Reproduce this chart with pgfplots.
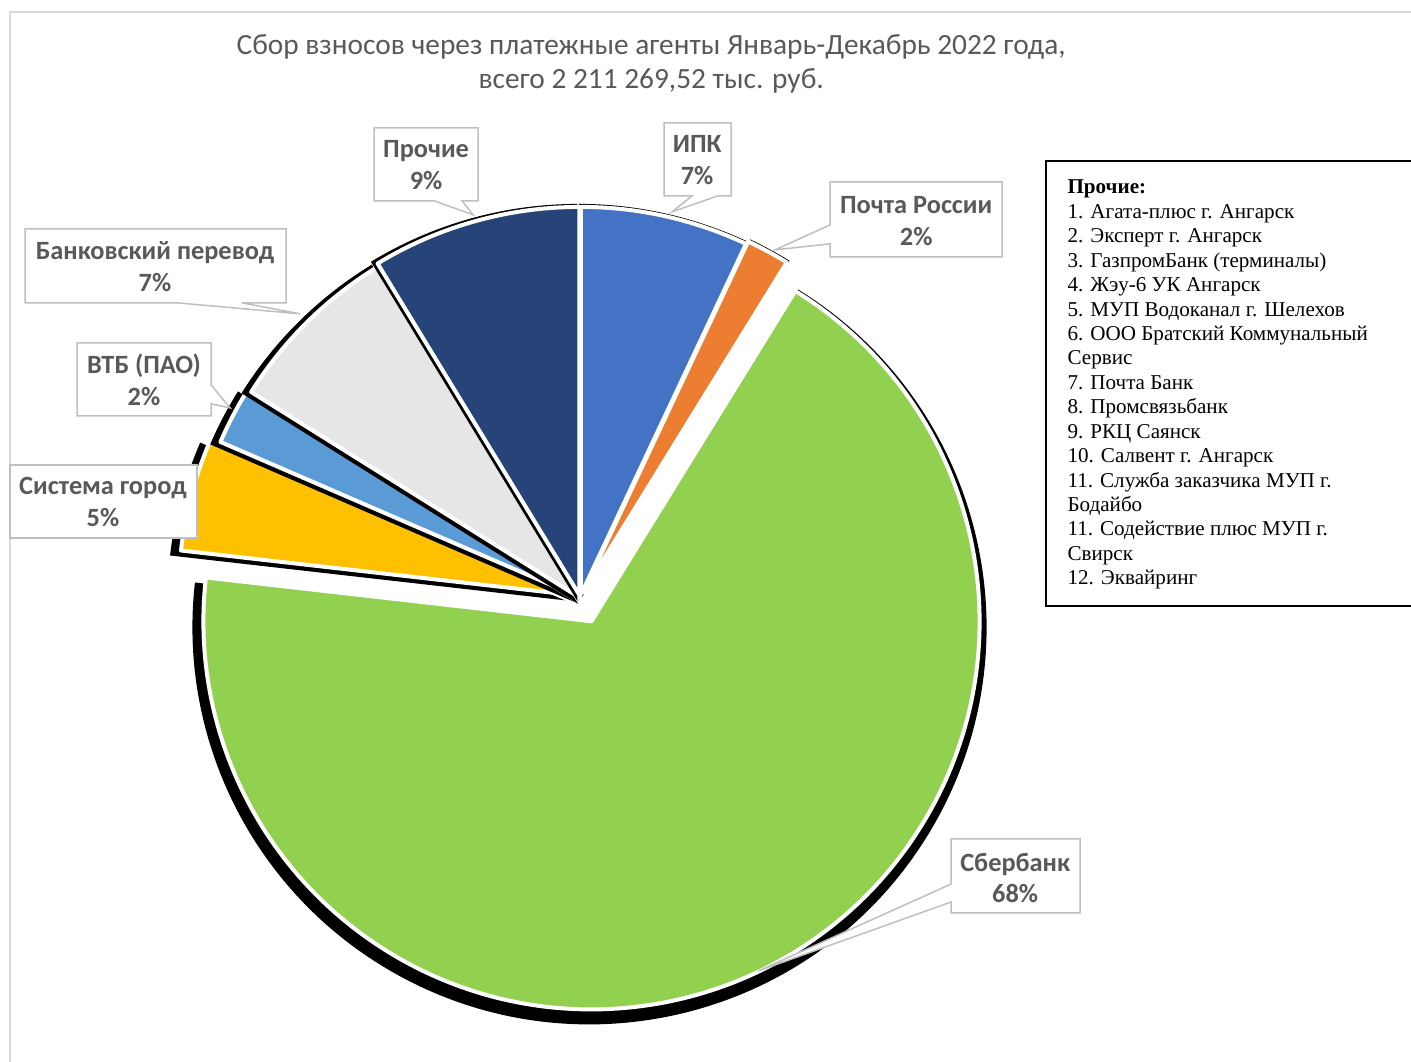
\documentclass[border=0pt]{standalone}
\usepackage{fontspec}
\setmainfont{Carlito}
\newfontfamily\legfont{Liberation Serif}
\usepackage{pgfplots}
\usepackage{pgfplotstable}
\pgfplotsset{compat=1.18}

\definecolor{s0}{HTML}{4472C4}
\definecolor{s1}{HTML}{ED7D31}
\definecolor{s2}{HTML}{92D050}
\definecolor{s3}{HTML}{FFC000}
\definecolor{s4}{HTML}{5B9BD5}
\definecolor{s5}{HTML}{E6E6E6}
\definecolor{s6}{HTML}{264478}
\definecolor{lblgray}{HTML}{595959}
\definecolor{boxgray}{HTML}{BFBFBF}
\definecolor{framegray}{HTML}{D9D9D9}

% shares in %, clockwise from 12 o'clock; expl = pull-out of the slice (px)
\pgfplotstableread{
name pct expl
ИПК 7.0 3
Почта 1.8 6
Сбербанк 68.0 26
Система 4.7 14
ВТБ 2.4 4
Банк 7.4 0
Прочие 8.7 3
}\piedata

% pie centre and radius, in px of the 1411x1062 canvas (y up)
\def\cx{580}
\def\cy{464}
\def\R{388}
\newcommand\px[2]{(axis cs:#1,{1062-#2})}

\begin{document}
\begin{tikzpicture}
\def\cum{0}
\pgfplotsforeachungrouped \i in {0,1,2,3,4,5,6}{%
  \pgfplotstablegetelem{\i}{pct}\of\piedata\let\p\pgfplotsretval
  \pgfplotstablegetelem{\i}{expl}\of\piedata\let\e\pgfplotsretval
  \pgfmathsetmacro\sa{90-3.6*\cum}%
  \pgfmathsetmacro\cum{\cum+\p}%
  \pgfmathsetmacro\ea{90-3.6*\cum}%
  \pgfmathsetmacro\ma{(\sa+\ea)/2}%
  \pgfmathsetmacro\ax{\cx+\e*cos(\ma)}%
  \pgfmathsetmacro\ay{\cy+\e*sin(\ma)}%
  \expandafter\xdef\csname sa\i\endcsname{\sa}%
  \expandafter\xdef\csname ea\i\endcsname{\ea}%
  \expandafter\xdef\csname ax\i\endcsname{\ax}%
  \expandafter\xdef\csname ay\i\endcsname{\ay}%
  \pgfmathsetmacro\t{\ax+\R*cos(\sa)}\expandafter\xdef\csname sx\i\endcsname{\t}%
  \pgfmathsetmacro\t{\ay+\R*sin(\sa)}\expandafter\xdef\csname sy\i\endcsname{\t}%
  \pgfmathsetmacro\t{\ax-2}\expandafter\xdef\csname hx\i\endcsname{\t}%
  \pgfmathsetmacro\t{\ay-6}\expandafter\xdef\csname hy\i\endcsname{\t}%
  \pgfmathsetmacro\t{\ax-2+(\R+9)*cos(\sa)}\expandafter\xdef\csname hsx\i\endcsname{\t}%
  \pgfmathsetmacro\t{\ay-6+(\R+9)*sin(\sa)}\expandafter\xdef\csname hsy\i\endcsname{\t}%
}
\begin{axis}[
  x=0.02cm, y=0.02cm,
  xmin=0, xmax=1411, ymin=0, ymax=1062,
  hide axis, clip=false,
  at={(0,0)}, anchor=south west,
]
% chart frame
\draw[framegray, line width=0.03cm] \px{10}{1100} -- \px{10}{12} -- \px{1430}{12};

% slices: shadow first, then the slice with a white rim
\pgfplotsinvokeforeach{0,...,6}{
  \fill[black] (axis cs:\csname hsx#1\endcsname,\csname hsy#1\endcsname)
    arc[start angle=\csname sa#1\endcsname, end angle=\csname ea#1\endcsname, radius={(\R+9)*0.02cm}]
    -- (axis cs:\csname hx#1\endcsname,\csname hy#1\endcsname) -- cycle;
  \filldraw[fill=s#1, draw=white, line width=0.08cm, line join=round]
    (axis cs:\csname sx#1\endcsname,\csname sy#1\endcsname)
    arc[start angle=\csname sa#1\endcsname, end angle=\csname ea#1\endcsname, radius={\R*0.02cm}]
    -- (axis cs:\csname ax#1\endcsname,\csname ay#1\endcsname) -- cycle;
}

% title
\node[text=lblgray, align=center, font=\fontsize{16.7}{19.8}\selectfont] at \px{651}{64}
  {Сбор взносов через платежные агенты Январь-Декабрь 2022 года,\\всего 2 211 269,52 тыс. руб.};

% data callouts
\tikzset{callout/.style={draw=boxgray, fill=white, line width=0.03cm, line join=miter}}
\tikzset{lbl/.style={text=lblgray, align=center, font=\fontsize{15}{18}\selectfont\bfseries}}
\draw[callout] \px{374}{128} -- \px{478}{128} -- \px{478}{201} -- \px{462}{201} -- \px{473}{215} -- \px{434}{201} -- \px{374}{201} -- cycle;
\node[lbl] at \px{426}{165} {Прочие\\9\%};
\draw[callout] \px{25}{229} -- \px{286}{229} -- \px{286}{303} -- \px{242}{303} -- \px{300}{314} -- \px{177}{303} -- \px{25}{303} -- cycle;
\node[lbl] at \px{155}{267} {Банковский перевод\\7\%};
\draw[callout] \px{77}{343} -- \px{211}{343} -- \px{211}{385} -- \px{230}{408} -- \px{211}{404} -- \px{211}{416} -- \px{77}{416} -- cycle;
\node[lbl] at \px{144}{380} {ВТБ (ПАО)\\2\%};
\draw[callout] \px{10}{465} -- \px{197}{465} -- \px{197}{538} -- \px{10}{538} -- cycle;
\node[lbl] at \px{103}{502} {Система город\\5\%};
\draw[callout] \px{664}{123} -- \px{731}{123} -- \px{731}{196} -- \px{718}{196} -- \px{672}{212} -- \px{692}{196} -- \px{664}{196} -- cycle;
\node[lbl] at \px{697}{160} {ИПК\\7\%};
\draw[callout] \px{830}{182} -- \px{1002}{182} -- \px{1002}{257} -- \px{830}{257} -- \px{830}{244} -- \px{775}{250} -- \px{830}{225} -- cycle;
\node[lbl] at \px{916}{221} {Почта России\\2\%};
\draw[callout] \px{951}{839} -- \px{1080}{839} -- \px{1080}{913} -- \px{951}{913} -- \px{951}{902} -- \px{758}{971} -- \px{951}{884} -- cycle;
\node[lbl] at \px{1015}{878} {Сбербанк\\68\%};

% note box on the right
\draw[black, line width=0.04cm] \px{1046}{161} rectangle \px{1430}{606};
\node[anchor=north west, inner sep=0pt, align=left, font=\legfont\fontsize{12}{13.9}\selectfont] at \px{1067}{180}
  {\textbf{Прочие:}\\
   1. Агата-плюс г. Ангарск\\
   2. Эксперт г. Ангарск\\
   3. ГазпромБанк (терминалы)\\
   4. Жэу-6 УК Ангарск\\
   5. МУП Водоканал г. Шелехов\\
   6. ООО Братский Коммунальный\\
   Сервис\\
   7. Почта Банк\\
   8. Промсвязьбанк\\
   9. РКЦ Саянск\\
   10. Салвент г. Ангарск\\
   11. Служба заказчика МУП г.\\
   Бодайбо\\
   11. Содействие плюс МУП г.\\
   Свирск\\
   12. Эквайринг};
\end{axis}
\pgfresetboundingbox
\path (0,0) rectangle (28.22cm,21.24cm);
\end{tikzpicture}
\end{document}
